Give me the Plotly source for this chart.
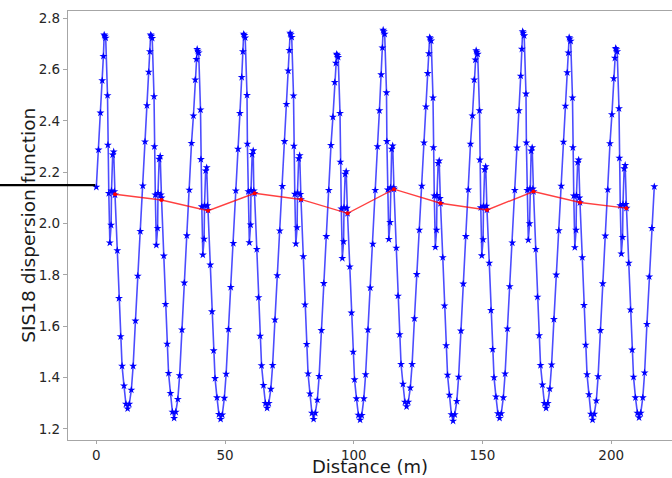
import plotly.graph_objects as go

# ---------------- data ----------------
CELL_LENGTH = 18.06          # m, SIS18 has 12 identical cells (216.72 m)
RING_END = 216.72
RING_END_VALUE = 2.144

# positions of the sampled points inside one cell (m)
CELL_OFFSETS = [0.0, 0.85, 1.6, 2.3, 2.75, 3.05, 3.3, 3.65, 4.35, 4.5, 4.85,
                5.25, 5.75, 5.9, 6.35, 6.75, 7.0, 7.26, 8.15, 8.8, 9.45, 10.0,
                10.75, 11.5, 12.15, 12.8, 13.6, 14.3, 15.2, 16.1, 17.1]

# dispersion values read cell by cell
cell_01 = [2.142, 2.287, 2.431, 2.557, 2.652, 2.735, 2.730, 2.723, 2.499, 2.306, 2.118,
           1.925, 1.994, 2.128, 2.268, 2.280, 2.125, 2.112, 1.895, 1.709, 1.560, 1.445,
           1.368, 1.297, 1.279, 1.297, 1.352, 1.445, 1.621, 1.796, 1.970]
cell_02 = [2.147, 2.319, 2.460, 2.590, 2.670, 2.735, 2.730, 2.722, 2.495, 2.300, 2.112,
           1.916, 1.982, 2.118, 2.251, 2.262, 2.112, 2.100, 1.874, 1.686, 1.531, 1.417,
           1.339, 1.266, 1.242, 1.266, 1.316, 1.408, 1.586, 1.769, 1.953]
cell_03 = [2.131, 2.313, 2.420, 2.560, 2.640, 2.679, 2.672, 2.665, 2.443, 2.250, 2.066,
           1.878, 1.940, 2.070, 2.206, 2.218, 2.070, 2.052, 1.839, 1.657, 1.505, 1.397,
           1.322, 1.257, 1.238, 1.255, 1.320, 1.414, 1.588, 1.752, 1.923]
cell_04 = [2.128, 2.290, 2.430, 2.570, 2.670, 2.738, 2.733, 2.724, 2.500, 2.310, 2.125,
           1.926, 1.995, 2.130, 2.270, 2.284, 2.128, 2.118, 1.900, 1.712, 1.562, 1.447,
           1.370, 1.300, 1.281, 1.300, 1.355, 1.448, 1.625, 1.798, 1.972]
cell_05 = [2.145, 2.320, 2.465, 2.595, 2.675, 2.742, 2.736, 2.726, 2.498, 2.302, 2.115,
           1.921, 1.985, 2.120, 2.253, 2.265, 2.114, 2.094, 1.872, 1.684, 1.530, 1.415,
           1.337, 1.262, 1.238, 1.262, 1.313, 1.405, 1.584, 1.767, 1.950]
cell_06 = [2.130, 2.305, 2.415, 2.550, 2.625, 2.660, 2.655, 2.648, 2.430, 2.240, 2.058,
           1.865, 1.930, 2.062, 2.193, 2.203, 2.060, 2.040, 1.832, 1.652, 1.500, 1.392,
           1.318, 1.254, 1.235, 1.253, 1.318, 1.412, 1.586, 1.750, 1.920]
cell_07 = [2.130, 2.300, 2.440, 2.580, 2.685, 2.754, 2.748, 2.738, 2.510, 2.320, 2.132,
           1.939, 2.005, 2.140, 2.290, 2.303, 2.140, 2.134, 1.905, 1.718, 1.568, 1.452,
           1.375, 1.305, 1.287, 1.305, 1.360, 1.452, 1.630, 1.802, 1.975]
cell_08 = [2.146, 2.315, 2.455, 2.585, 2.662, 2.725, 2.720, 2.712, 2.490, 2.296, 2.108,
           1.908, 1.975, 2.110, 2.235, 2.245, 2.098, 2.079, 1.868, 1.680, 1.525, 1.410,
           1.332, 1.256, 1.231, 1.256, 1.308, 1.402, 1.582, 1.765, 1.950]
cell_09 = [2.132, 2.310, 2.420, 2.560, 2.638, 2.674, 2.668, 2.660, 2.440, 2.248, 2.062,
           1.875, 1.938, 2.068, 2.210, 2.222, 2.068, 2.053, 1.846, 1.662, 1.510, 1.400,
           1.325, 1.260, 1.242, 1.260, 1.322, 1.415, 1.590, 1.755, 1.925]
cell_10 = [2.130, 2.295, 2.440, 2.575, 2.680, 2.748, 2.742, 2.732, 2.505, 2.315, 2.130,
           1.936, 2.000, 2.136, 2.283, 2.296, 2.135, 2.125, 1.900, 1.714, 1.564, 1.448,
           1.372, 1.300, 1.281, 1.300, 1.356, 1.450, 1.627, 1.800, 1.973]
cell_11 = [2.146, 2.318, 2.458, 2.588, 2.665, 2.725, 2.720, 2.711, 2.490, 2.296, 2.108,
           1.907, 1.975, 2.110, 2.238, 2.248, 2.100, 2.082, 1.868, 1.682, 1.527, 1.412,
           1.334, 1.258, 1.235, 1.258, 1.310, 1.404, 1.584, 1.766, 1.952]
cell_12 = [2.132, 2.312, 2.425, 2.565, 2.645, 2.683, 2.678, 2.670, 2.448, 2.255, 2.070,
           1.882, 1.947, 2.075, 2.214, 2.227, 2.075, 2.060, 1.846, 1.664, 1.508, 1.402,
           1.322, 1.262, 1.244, 1.262, 1.322, 1.419, 1.608, 1.793, 1.982]

CELLS = [cell_01, cell_02, cell_03, cell_04, cell_05, cell_06,
         cell_07, cell_08, cell_09, cell_10, cell_11, cell_12]

# cell-averaged (red) points
avg_s = [7.26, 25.3, 43.4, 61.5, 79.5, 97.6, 115.6, 133.7, 151.8, 169.8, 187.9, 205.9]
avg_d = [2.114, 2.092, 2.050, 2.118, 2.094, 2.040, 2.134, 2.079, 2.053, 2.125, 2.082, 2.060]

X_TICKS = [0, 50, 100, 150, 200]
Y_TICKS = [1.2, 1.4, 1.6, 1.8, 2.0, 2.2, 2.4, 2.6, 2.8]
MARK_LEVEL = 2.15

# ---------------- assemble ----------------
s_vals, d_vals = [], []
for k, cell in enumerate(CELLS):
    for off, v in zip(CELL_OFFSETS, cell):
        s_vals.append(k * CELL_LENGTH + off)
        d_vals.append(v)
s_vals.append(RING_END)
d_vals.append(RING_END_VALUE)

FONT = "DejaVu Sans"
fig = go.Figure()
fig.add_trace(go.Scatter(
    x=s_vals, y=d_vals, mode="lines+markers",
    line=dict(color="rgba(0,0,255,0.7)", width=1.6),
    marker=dict(symbol="star", size=6, color="#0000ff",
                line=dict(width=0)),
    showlegend=False))
fig.add_trace(go.Scatter(
    x=avg_s, y=avg_d, mode="lines+markers",
    line=dict(color="rgba(255,0,0,0.75)", width=1.4),
    marker=dict(symbol="circle", size=4, color="#ff0000"),
    showlegend=False))

fig.add_shape(type="line", xref="paper", yref="y",
              x0=-0.12, x1=0.045, y0=MARK_LEVEL, y1=MARK_LEVEL,
              line=dict(color="black", width=2.2))

# axis titles placed as text annotations
fig.add_annotation(text="SIS18 dispersion function", textangle=-90,
                   xref="paper", yref="paper", x=-0.066, y=0.5,
                   xanchor="center", yanchor="middle", showarrow=False,
                   font=dict(size=18.5, family=FONT, color="#1a1a1a"))
fig.add_annotation(text="Distance (m)",
                   xref="paper", yref="paper", x=0.5, y=-0.0885,
                   xanchor="center", yanchor="bottom", showarrow=False,
                   borderpad=0,
                   font=dict(size=18, family=FONT, color="#1a1a1a"))

fig.update_layout(
    width=672, height=478,
    margin=dict(l=68, r=0, t=11, b=38),
    paper_bgcolor="white", plot_bgcolor="white",
    font=dict(family=FONT, color="#262626"),
    xaxis=dict(range=[-11.0, 223.6], tickvals=X_TICKS, automargin=False,
               showgrid=False, zeroline=False,
               showline=True, mirror=True, linecolor="#a6a6a6", linewidth=1.3,
               ticks="outside", ticklen=3, tickcolor="#a6a6a6",
               tickfont=dict(size=13.5, family=FONT, color="#262626")),
    yaxis=dict(range=[1.157, 2.828], tickvals=Y_TICKS, tickformat=".1f", automargin=False,
               showgrid=False, zeroline=False,
               showline=True, mirror=False, linecolor="#a6a6a6", linewidth=1.3,
               ticks="outside", ticklen=4, tickcolor="#a6a6a6",
               tickfont=dict(size=13.5, family=FONT, color="#262626")),
)

fig.write_html("out.html")
